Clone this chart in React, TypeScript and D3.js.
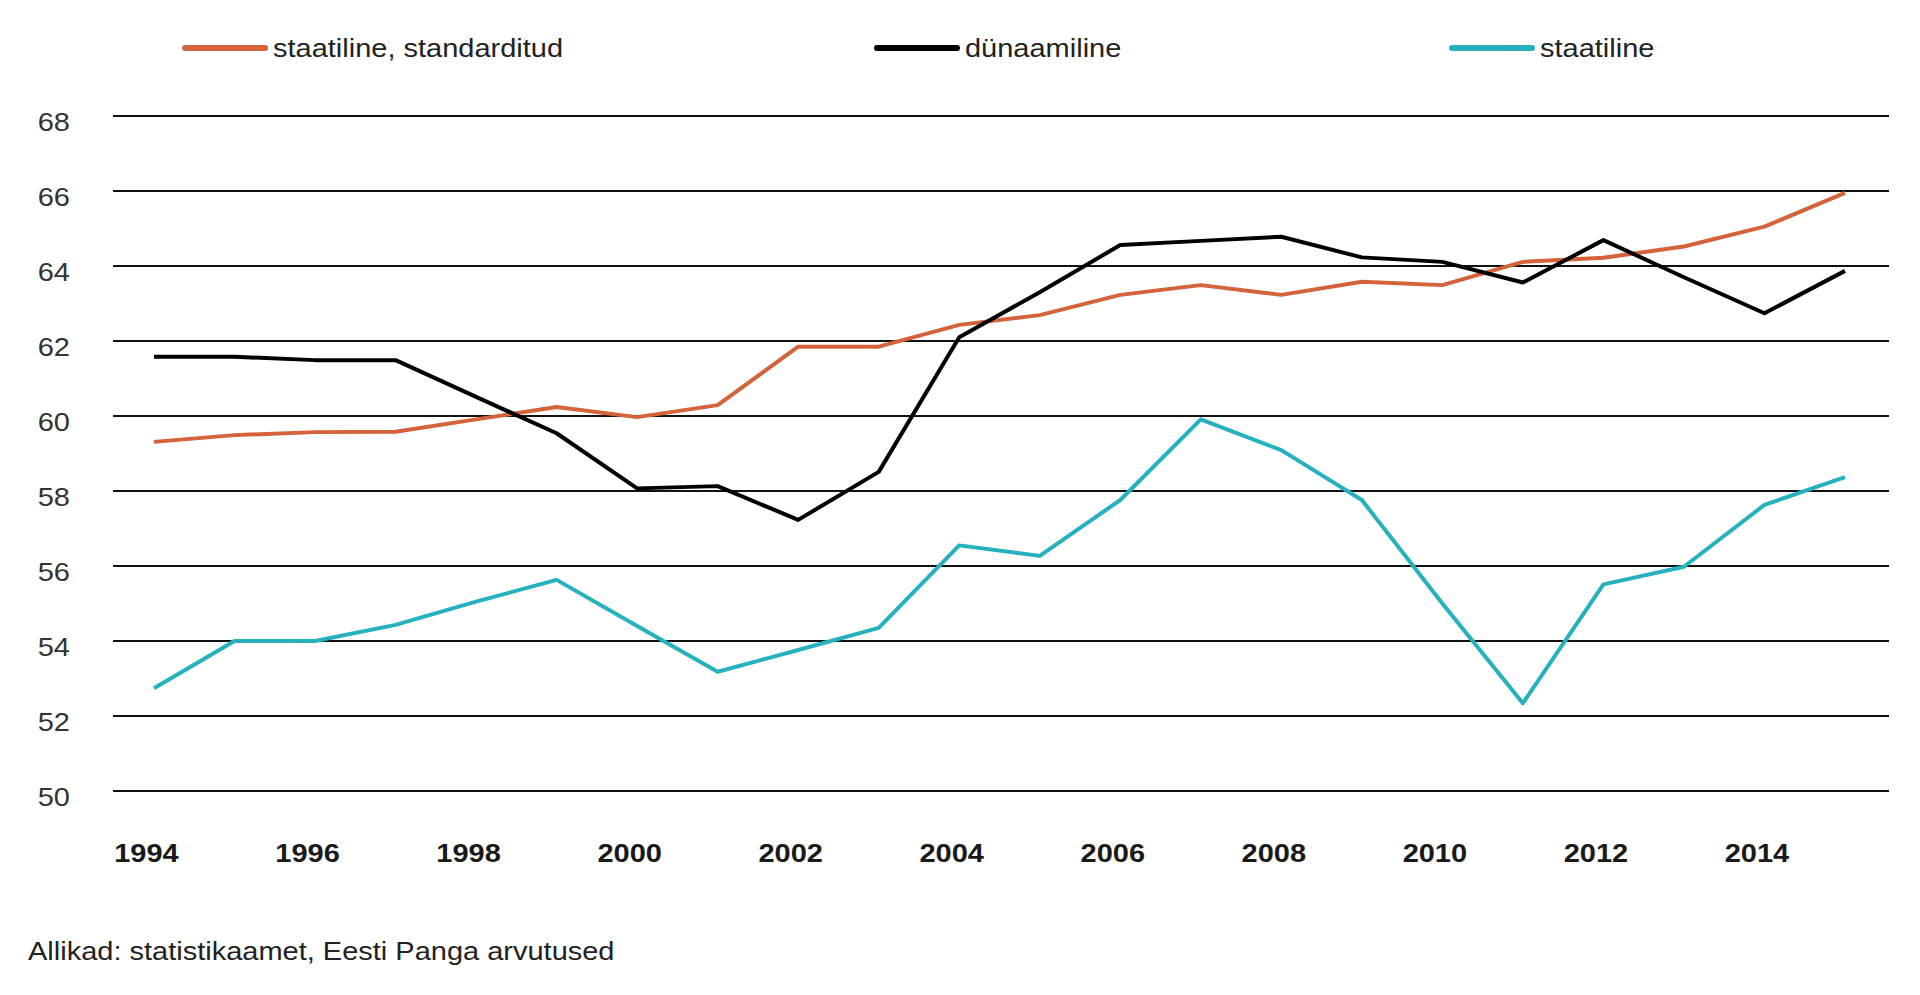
import { useEffect, useRef } from 'react';
import * as d3 from 'd3';

// data
const years = [1994, 1995, 1996, 1997, 1998, 1999, 2000, 2001, 2002, 2003, 2004,
  2005, 2006, 2007, 2008, 2009, 2010, 2011, 2012, 2013, 2014, 2015];

const staatilineStandarditud = [59.31, 59.49, 59.57, 59.58, 59.91, 60.24, 59.97, 60.29, 61.85, 61.85, 62.43,
  62.69, 63.23, 63.49, 63.23, 63.58, 63.49, 64.11, 64.22, 64.52, 65.05, 65.95];

const dunaamiline = [61.58, 61.58, 61.49, 61.49, 60.51, 59.54, 58.07, 58.13, 57.23, 58.51, 62.1,
  63.3, 64.56, 64.67, 64.78, 64.23, 64.11, 63.56, 64.69, 63.7, 62.74, 63.87];

const staatiline = [52.74, 54.0, 54.0, 54.43, 55.05, 55.63, 54.4, 53.18, 53.76, 54.35, 56.55,
  56.27, 57.76, 59.91, 59.09, 57.76, 55.0, 52.34, 55.51, 55.98, 57.63, 58.37];

const yTicks = [50, 52, 54, 56, 58, 60, 62, 64, 66, 68];
const xTicks = [1994, 1996, 1998, 2000, 2002, 2004, 2006, 2008, 2010, 2012, 2014];

const seriesNames = ['staatiline, standarditud', 'dünaamiline', 'staatiline'];
const seriesColors = ['#d4623a', '#000000', '#25b1be'];
const sourceNote = 'Allikad: statistikaamet, Eesti Panga arvutused';

const W = 1920;
const H = 995;
const FONT = '"Liberation Sans", Arial, sans-serif';
const STRETCH = 1.16; // text in the picture is a bit wider than plain Arial

const App = () => {
  const svgRef = useRef<SVGSVGElement>(null);

  useEffect(() => {
    document.body.style.margin = '0';
    const svg = d3.select(svgRef.current);
    svg.selectAll('*').remove();

    const x = d3.scaleLinear().domain([1994, 2015]).range([154, 1845]);
    const y = d3.scaleLinear().domain([50, 68]).range([791, 116]);

    // gridlines
    svg.append('g')
      .selectAll('line')
      .data(yTicks)
      .join('line')
      .attr('x1', 113)
      .attr('x2', 1889)
      .attr('y1', d => y(d))
      .attr('y2', d => y(d))
      .attr('stroke', '#111')
      .attr('stroke-width', 2);

    // y labels
    svg.append('g')
      .selectAll('g')
      .data(yTicks)
      .join('g')
      .attr('transform', d => `translate(70,${y(d) + 15}) scale(${STRETCH},1)`)
      .append('text')
      .attr('text-anchor', 'end')
      .attr('font-family', FONT)
      .attr('font-size', 25)
      .attr('fill', '#333')
      .text(d => d);

    // x labels (bold in the original)
    svg.append('g')
      .selectAll('g')
      .data(xTicks)
      .join('g')
      .attr('transform', d => `translate(${x(d) - 7.5},862) scale(${STRETCH},1)`)
      .append('text')
      .attr('text-anchor', 'middle')
      .attr('font-family', FONT)
      .attr('font-size', 25)
      .attr('font-weight', 'bold')
      .attr('fill', '#1a1a1a')
      .text(d => d);

    const line = d3.line<number>()
      .x((_, i) => x(years[i]))
      .y(d => y(d));

    [staatilineStandarditud, dunaamiline, staatiline].forEach((values, i) => {
      svg.append('path')
        .datum(values)
        .attr('d', line)
        .attr('fill', 'none')
        .attr('stroke', seriesColors[i])
        .attr('stroke-width', 4)
        .attr('stroke-linejoin', 'round');
    });

    // legend
    const legendX = [185, 877, 1452];
    const legend = svg.append('g')
      .selectAll('g')
      .data(seriesNames)
      .join('g')
      .attr('transform', (_, i) => `translate(${legendX[i]},0)`);

    legend.append('line')
      .attr('x1', 0)
      .attr('x2', 80)
      .attr('y1', 48)
      .attr('y2', 48)
      .attr('stroke', (_, i) => seriesColors[i])
      .attr('stroke-width', 6)
      .attr('stroke-linecap', 'round');

    legend.append('g')
      .attr('transform', `translate(88,57) scale(${STRETCH},1)`)
      .append('text')
      .attr('font-family', FONT)
      .attr('font-size', 25)
      .attr('fill', '#222')
      .text(d => d);

    // source note
    svg.append('g')
      .attr('transform', `translate(28,960) scale(${STRETCH},1)`)
      .append('text')
      .attr('font-family', FONT)
      .attr('font-size', 25)
      .attr('fill', '#222')
      .text(sourceNote);
  }, []);

  return <svg ref={svgRef} width={W} height={H} style={{ display: 'block', background: '#fff' }} />;
};

export default App;
